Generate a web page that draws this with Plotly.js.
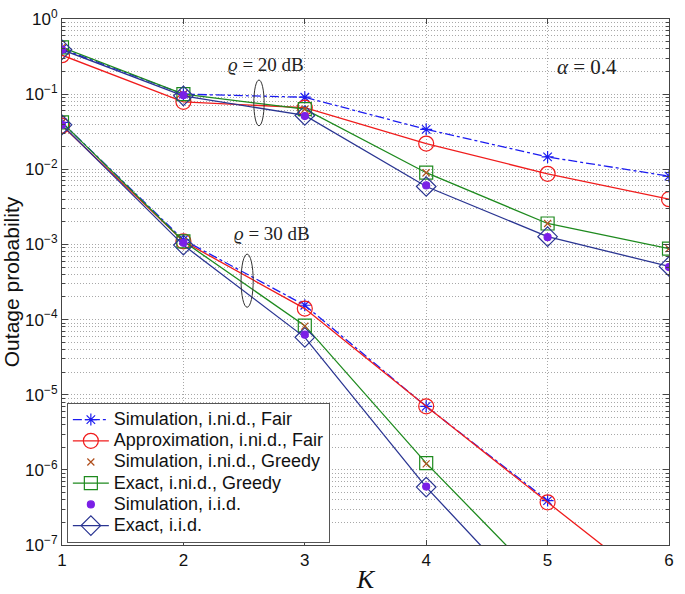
<!DOCTYPE html>
<html>
<head>
<meta charset="utf-8">
<script src="https://cdn.plot.ly/plotly-3.0.1.min.js"></script>
<style>html,body{margin:0;padding:0;background:#fff;}#chart{width:685px;height:594px;}</style>
</head>
<body>
<div id="chart"></div>
<script>
const K = [1, 2, 3, 4, 5, 6];

// rho = 20 dB
const simFair20    = [0.40, 0.10, 0.091, 0.034, 0.0146, 0.0081];
const approxFair20 = [0.33, 0.079, 0.066, 0.022, 0.0087, 0.0040];
const simGreedy20  = [0.42, 0.10, 0.063, 0.0090, 0.0019, 0.00088];
const exGreedy20   = [0.42, 0.10, 0.063, 0.0090, 0.0019, 0.00088];
const simIid20     = [0.39, 0.097, 0.051, 0.0061, 0.00125, 0.00050];
const exIid20      = [0.39, 0.095, 0.052, 0.0059, 0.00127, 0.00051];

// rho = 30 dB
const simFair30    = [0.042, 0.00115, 1.55e-4, 7.0e-6, 3.9e-7];
const approxFair30 = [0.038, 0.00110, 1.40e-4, 7.0e-6, 3.7e-7, 2.0e-8];
const simGreedy30  = [0.042, 0.00110, 8.2e-5, 1.2e-6];
const exGreedy30   = [0.042, 0.00110, 8.3e-5, 1.23e-6, 2.7e-8, 1.0e-9];
const simIid30     = [0.039, 0.00105, 6.3e-5, 6.0e-7];
const exIid30      = [0.039, 0.00098, 5.8e-5, 5.9e-7, 1.1e-8, 3.0e-10];

const seriesNames = ['Simulation, i.ni.d., Fair', 'Approximation, i.ni.d., Fair', 'Simulation, i.ni.d., Greedy',
                     'Exact, i.ni.d., Greedy', 'Simulation, i.i.d.', 'Exact, i.i.d.'];

const yTickVals = [1, 1e-1, 1e-2, 1e-3, 1e-4, 1e-5, 1e-6, 1e-7];
const yTickText = ['10<sup>0</sup>','10<sup>−1</sup>','10<sup>−2</sup>','10<sup>−3</sup>','10<sup>−4</sup>','10<sup>−5</sup>','10<sup>−6</sup>','10<sup>−7</sup>'];

function join(a, b) {
  return {
    x: K.slice(0, a.length).concat([null]).concat(K.slice(0, b.length)),
    y: a.concat([null]).concat(b)
  };
}

const traces = [];
function add(idx, a, b, color, mode, dash, symbol, size) {
  const d = join(a, b);
  traces.push({
    x: d.x, y: d.y, type: 'scatter', mode: mode,
    name: '<span style="font-size:18px">' + seriesNames[idx] + '</span>',
    legendrank: idx + 1,
    connectgaps: false,
    line: {color: color, width: 1.3, dash: dash},
    marker: {symbol: symbol, size: size, color: color, line: {color: color, width: 1.2}}
  });
}
add(0, simFair20, simFair30, '#1c1cf0', 'lines+markers', 'dashdot', 'asterisk-open', 10);
add(1, approxFair20, approxFair30, '#f01c1c', 'lines+markers', 'solid', 'circle-open', 15);
add(3, exGreedy20, exGreedy30, '#1e8a1e', 'lines+markers', 'solid', 'square-open', 13);
add(5, exIid20, exIid30, '#2a3592', 'lines+markers', 'solid', 'diamond-open', 15);
add(2, simGreedy20, simGreedy30, '#b0501e', 'markers', 'solid', 'x-thin-open', 7);
add(4, simIid20, simIid30, '#7a1fe6', 'markers', 'solid', 'circle', 7);

const gridC = '#a8a8a8';
const gdash = '1px,2px';
const layout = {
  width: 685, height: 594,
  margin: {l: 62, r: 16, t: 19, b: 49},
  paper_bgcolor: '#fff', plot_bgcolor: '#fff',
  font: {family: 'Liberation Sans, Arial, sans-serif', size: 17, color: '#111'},
  showlegend: true,
  legend: {
    x: 0.008, y: 0.27, xanchor: 'left', yanchor: 'top',
    bgcolor: '#fff', bordercolor: '#555', borderwidth: 1,
    font: {size: 14, family: 'Liberation Sans, Arial, sans-serif', color: '#111'},
    tracegroupgap: 0, itemwidth: 36
  },
  xaxis: {
    range: [1, 6], tickvals: K, ticks: 'inside', ticklen: 5, tickcolor: '#444',
    showline: true, linecolor: '#444', linewidth: 1, mirror: 'ticks',
    showgrid: true, gridcolor: gridC, griddash: gdash, gridwidth: 1, zeroline: false,
    tickfont: {size: 17},
    title: {text: '<i>K</i>', font: {family: 'Liberation Serif, Times New Roman, serif', size: 26}, standoff: 0}
  },
  yaxis: {
    type: 'log', range: [-7, 0], tickmode: 'array', tickvals: yTickVals, ticktext: yTickText,
    ticks: 'inside', ticklen: 6, tickcolor: '#444',
    showline: true, linecolor: '#444', linewidth: 1, mirror: 'ticks',
    showgrid: true, gridcolor: gridC, griddash: gdash, gridwidth: 1, zeroline: false,
    tickfont: {size: 17},
    minor: {dtick: 'D1', ticks: 'inside', ticklen: 3, tickcolor: '#444', showgrid: true, gridcolor: gridC, griddash: gdash, gridwidth: 1},
    title: {text: 'Outage probability', font: {size: 21}, standoff: 6}
  },
  shapes: [
    {type: 'circle', xref: 'paper', yref: 'paper', x0: 0.316, x1: 0.333, y0: 0.797, y1: 0.884, line: {color: '#333', width: 1}},
    {type: 'circle', xref: 'paper', yref: 'paper', x0: 0.295, x1: 0.315, y0: 0.452, y1: 0.553, line: {color: '#333', width: 1}}
  ],
  annotations: [
    {xref: 'paper', yref: 'paper', x: 0.336, y: 0.914, xanchor: 'center', yanchor: 'middle', showarrow: false, text: '<i>ϱ</i> = 20 dB', font: {family: 'Liberation Serif, Times New Roman, serif', size: 19, color: '#222'}},
    {xref: 'paper', yref: 'paper', x: 0.346, y: 0.593, xanchor: 'center', yanchor: 'middle', showarrow: false, text: '<i>ϱ</i> = 30 dB', font: {family: 'Liberation Serif, Times New Roman, serif', size: 19, color: '#222'}},
    {xref: 'paper', yref: 'paper', x: 0.865, y: 0.909, xanchor: 'center', yanchor: 'middle', showarrow: false, text: '<i>α</i> = 0.4', font: {family: 'Liberation Serif, Times New Roman, serif', size: 21, color: '#222'}}
  ]
};

Plotly.newPlot('chart', traces, layout, {displayModeBar: false, staticPlot: true});
</script>
</body>
</html>
